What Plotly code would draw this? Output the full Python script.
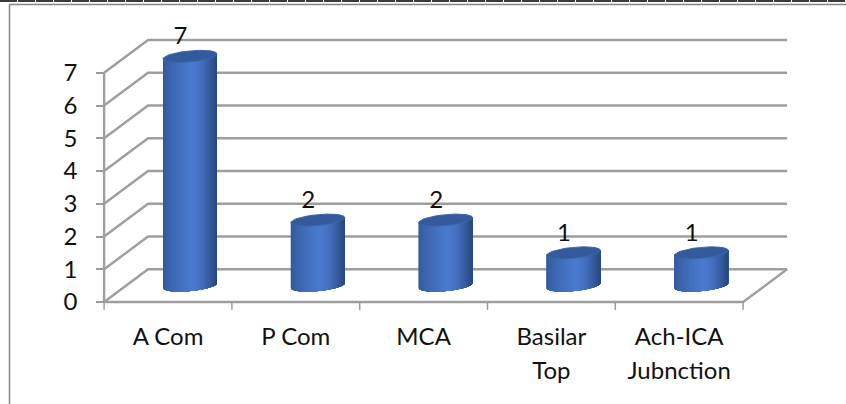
import numpy as np
import plotly.graph_objects as go

categories = ["A Com", "P Com", "MCA", "Basilar", "Ach-ICA"]
second_line = ["", "", "", "Top", "Jubnction"]
values = [7, 2, 2, 1, 1]
y_ticks = [0, 1, 2, 3, 4, 5, 6, 7]

# Page size and axis scale
W, H = 846, 404
PX_X, PX_Y = 127.8, 32.75
ORIGIN_X, ORIGIN_Y = 168, 302

# Pseudo-3D geometry, expressed in axis units
DEPTH_X = 0.344
DEPTH_Y = 1.0
RX, RY, TILT = 0.211, 0.168, 0.076
OFFSET = DEPTH_X / 2
GRID = "#9e9e9e"
TEXT = "#111111"
FONT = "Lato, Carlito, Calibri, sans-serif"
FONT_SIZE = 24
LEFT, RIGHT = -0.5, 4.5
N = len(categories)


def mix(a, b, t):
    return "rgb(%d,%d,%d)" % tuple(round(a[i] + (b[i] - a[i]) * t) for i in range(3))


fig = go.Figure()


def line(xs, ys, width=2.4, color=GRID):
    fig.add_trace(go.Scatter(x=xs, y=ys, mode="lines", hoverinfo="skip",
                             line=dict(color=color, width=width), showlegend=False))


# Back wall gridlines, side diagonals and floor
back_x = LEFT + DEPTH_X
end_x = RIGHT + DEPTH_X
for v in y_ticks:
    line([LEFT, back_x, end_x], [v, v + DEPTH_Y, v + DEPTH_Y])
line([LEFT, LEFT], [0, 7])
line([LEFT, RIGHT, end_x], [0, 0, DEPTH_Y])

# Category separators below the floor
for i in range(N + 1):
    line([LEFT + i, LEFT + i], [0, -0.24], width=1.5, color="#9a9a9a")

# Cylinder bodies: shaded strips painted left to right, each overlapping the next
edge_left = (48, 88, 152)
edge_right = (40, 72, 126)
mid_light = (74, 122, 208)
strips = 40
edges = np.linspace(np.pi, 0, strips + 1)
for s in range(strips):
    frac = 0.5 + 0.5 * np.cos(edges[s] - np.pi / strips)
    if frac < 0.55:
        color = mix(edge_left, mid_light, min(1.0, (frac / 0.55) ** 0.7))
    else:
        color = mix(mid_light, edge_right, ((frac - 0.55) / 0.45) ** 1.6)
    xs, ys = [], []
    for i, v in enumerate(values):
        cx = i + OFFSET
        t = np.linspace(edges[s], 0, 30)
        bx = cx + RX * np.cos(t)
        by = DEPTH_Y / 2 - RY * np.sin(t) + TILT * np.cos(t)
        ty = DEPTH_Y / 2 + v + TILT * np.cos(t)
        xs += list(bx) + list(bx[::-1]) + [None]
        ys += list(by) + list(ty[::-1]) + [None]
    fig.add_trace(go.Scatter(x=xs, y=ys, mode="lines", fill="toself", fillcolor=color,
                             line=dict(width=0), hoverinfo="skip", showlegend=False))

# Elliptical caps on the cylinders
cap_x, cap_y = [], []
t = np.linspace(0, 2 * np.pi, 60)
for i, v in enumerate(values):
    cap_x += list(i + OFFSET + RX * np.cos(t)) + [None]
    cap_y += list(DEPTH_Y / 2 + v + RY * np.sin(t) + TILT * np.cos(t)) + [None]
fig.add_trace(go.Scatter(x=cap_x, y=cap_y, mode="lines", fill="toself", fillcolor="#345a9c",
                         line=dict(color="#3d66a8", width=1), hoverinfo="skip", showlegend=False))

# Value labels above each cylinder
fig.add_trace(go.Scatter(x=[i + OFFSET - 0.074 for i in range(N)], y=[v + 1.05 for v in values],
                         mode="text", text=[str(v) for v in values],
                         textposition="middle center", hoverinfo="skip", showlegend=False,
                         textfont=dict(family=FONT, size=FONT_SIZE, color=TEXT)))

# Second row of the two-line category labels
fig.add_trace(go.Scatter(x=list(range(N)), y=[-2.16] * N, mode="text", text=second_line,
                         textposition="middle center", hoverinfo="skip", showlegend=False,
                         textfont=dict(family=FONT, size=FONT_SIZE, color=TEXT)))

# Frame around the chart and the rule along the page top
frame = dict(type="line", xref="paper", yref="paper", line=dict(color="#858585", width=1.5))
shapes = [
    dict(frame, x0=9 / W, x1=1, y0=1 - 4.5 / H, y1=1 - 4.5 / H),
    dict(frame, x0=9.5 / W, x1=9.5 / W, y0=0, y1=1 - 4.5 / H),
    dict(type="line", xref="paper", yref="paper", x0=0, x1=1, y0=1 - 1 / H, y1=1 - 1 / H,
         line=dict(color="#3a3a3a", width=2, dash="17px,1px")),
]

# Both axes fill the page so the overhanging 3D parts stay in range; their lines sit at the floor corner
fig.update_layout(
    width=W, height=H, margin=dict(l=0, r=0, t=0, b=0), showlegend=False,
    paper_bgcolor="white", plot_bgcolor="white", shapes=shapes,
    font=dict(family=FONT, size=FONT_SIZE, color=TEXT),
    xaxis=dict(domain=[0, 1], range=[-ORIGIN_X / PX_X, (W - ORIGIN_X) / PX_X],
               anchor="free", position=(H - ORIGIN_Y) / H, showgrid=False, zeroline=False,
               showline=False, tickmode="array", tickvals=list(range(N)), ticktext=categories,
               ticks="", ticklabelstandoff=18),
    yaxis=dict(domain=[0, 1], range=[(ORIGIN_Y - H) / PX_Y, ORIGIN_Y / PX_Y],
               anchor="free", position=((LEFT * PX_X) + ORIGIN_X) / W, showgrid=False,
               zeroline=False, showline=False, tickmode="array", tickvals=y_ticks,
               ticktext=[str(v) for v in y_ticks], ticks="outside", ticklen=8, tickwidth=1.5,
               tickcolor="#9a9a9a", ticklabelstandoff=14),
)

fig.write_html("out.html")
